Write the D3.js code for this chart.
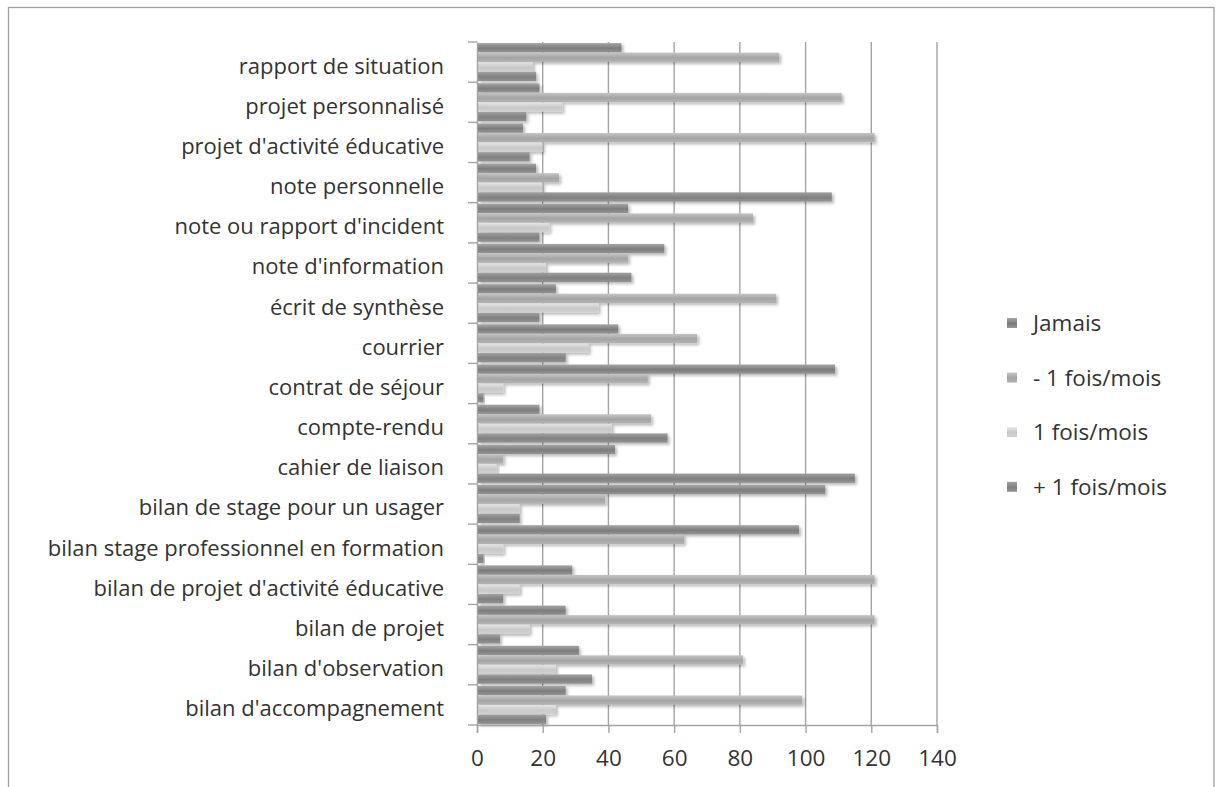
<!DOCTYPE html>
<html>
<head>
<meta charset="utf-8">
<script src="https://cdn.jsdelivr.net/npm/d3@7"></script>
<style>
  html, body { margin: 0; padding: 0; background: #fff; }
  svg { display: block; }
  svg text { font-family: 'Open Sans', sans-serif; }
</style>
</head>
<body>
<div id="plot"></div>
<script>
// categories, top to bottom as drawn
const categories = [
  "rapport de situation",
  "projet personnalisé",
  "projet d'activité éducative",
  "note personnelle",
  "note ou rapport d'incident",
  "note d'information",
  "écrit de synthèse",
  "courrier",
  "contrat de séjour",
  "compte-rendu",
  "cahier de liaison",
  "bilan de stage pour un usager",
  "bilan stage professionnel en formation",
  "bilan de projet d'activité éducative",
  "bilan de projet",
  "bilan d'observation",
  "bilan d'accompagnement"
];

const seriesNames = ["Jamais", "- 1 fois/mois", "1 fois/mois", "+ 1 fois/mois"];

const jamais      = [44, 19, 14, 18, 46, 57, 24, 43, 109, 19, 42, 106, 98, 29, 27, 31, 27];
const moinsUnFois = [92, 111, 121, 25, 84, 46, 91, 67, 52, 53, 8, 39, 63, 121, 121, 81, 99];
const unFois      = [17, 26, 20, 20, 22, 21, 37, 34, 8, 41, 6, 13, 8, 13, 16, 24, 24];
const plusUnFois  = [18, 15, 16, 108, 19, 47, 19, 27, 2, 58, 115, 13, 2, 8, 7, 35, 21];

const xTicks = [0, 20, 40, 60, 80, 100, 120, 140];

const seriesValues = [jamais, moinsUnFois, unFois, plusUnFois];

const width = 1222;
const height = 787;
const marginLeft = 477;
const plotRight = 937;
const plotTop = 42;
const plotBottom = 725;

const svg = d3.create("svg")
    .attr("width", width)
    .attr("height", height)
    .attr("viewBox", [0, 0, width, height]);

// gradients, one per series (dark / medium / light / dark)
const defs = svg.append("defs");
const grads = [
    ["#a6a6a6", "#7c7c7c", "#959595"],
    ["#c4c4c4", "#a4a4a4", "#b4b4b4"],
    ["#e4e4e4", "#c8c8c8", "#d2d2d2"],
    ["#a0a0a0", "#808080", "#939393"]
];
grads.forEach((g, i) => {
    const lg = defs.append("linearGradient")
        .attr("id", "g" + i)
        .attr("x1", 0).attr("y1", 0).attr("x2", 0).attr("y2", 1);
    lg.append("stop").attr("offset", "0%").attr("stop-color", g[0]);
    lg.append("stop").attr("offset", "55%").attr("stop-color", g[1]);
    lg.append("stop").attr("offset", "100%").attr("stop-color", g[2]);
});
const filt = defs.append("filter").attr("id", "shadow")
    .attr("x", "-5%").attr("y", "-40%").attr("width", "120%").attr("height", "200%");
filt.append("feDropShadow")
    .attr("dx", 2).attr("dy", 2).attr("stdDeviation", 1.6)
    .attr("flood-color", "#000").attr("flood-opacity", 0.28);

// frame
svg.append("rect")
    .attr("x", 8.5).attr("y", 7.5)
    .attr("width", 1214 - 8.5).attr("height", 800)
    .attr("fill", "none")
    .attr("stroke", "#a0a0a0")
    .attr("stroke-width", 1.3);

const x = d3.scaleLinear()
    .domain([0, 140])
    .range([marginLeft, plotRight]);

const y0 = d3.scaleBand()
    .domain(categories)
    .range([plotTop, plotBottom])
    .paddingInner(0.04)
    .paddingOuter(0.02);

const y1 = d3.scaleBand()
    .domain(d3.range(seriesNames.length))
    .range([0, y0.bandwidth()])
    .padding(0.03);

// gridlines
svg.append("g")
    .selectAll("line")
    .data(xTicks.slice(1))
    .join("line")
    .attr("x1", d => x(d)).attr("x2", d => x(d))
    .attr("y1", plotTop).attr("y2", plotBottom)
    .attr("stroke", "#a4a4a4")
    .attr("stroke-width", 1.4);

// bars
const groups = svg.append("g")
    .selectAll("g")
    .data(categories)
    .join("g")
    .attr("transform", d => `translate(0,${y0(d)})`);

groups.selectAll("rect")
    .data((c, ci) => seriesValues.map((vals, si) => ({ si, v: vals[ci] })))
    .join("rect")
    .attr("x", x(0) + 1)
    .attr("y", d => y1(d.si))
    .attr("width", d => Math.max(0, x(d.v) - x(0) - 1))
    .attr("height", y1.bandwidth())
    .attr("fill", d => `url(#g${d.si})`)
    .attr("filter", "url(#shadow)");

// x axis
const xAxis = svg.append("g")
    .attr("transform", `translate(0,${plotBottom})`)
    .call(d3.axisBottom(x).tickValues(xTicks).tickSize(8).tickPadding(17));
xAxis.attr("font-family", null);
xAxis.select(".domain").attr("stroke", "#a4a4a4").attr("stroke-width", 1.4);
xAxis.selectAll(".tick line").attr("stroke", "#a4a4a4").attr("stroke-width", 1.4);
xAxis.selectAll(".tick text")
    .attr("fill", "#333")
    .style("font-size", "22.5px");

// y axis
const yAxis = svg.append("g")
    .attr("transform", `translate(${marginLeft},0)`)
    .call(d3.axisLeft(y0).tickSize(0).tickPadding(33));
yAxis.attr("font-family", null);
yAxis.select(".domain").attr("stroke", "#a4a4a4").attr("stroke-width", 1.4);
yAxis.selectAll(".tick text")
    .attr("fill", "#333")
    .attr("dy", "0.52em")
    .style("font-size", "22px");

// category separator ticks
const step = y0.step();
svg.append("g")
    .selectAll("line")
    .data(d3.range(categories.length + 1))
    .join("line")
    .attr("x1", marginLeft - 9).attr("x2", marginLeft)
    .attr("y1", i => y0(categories[0]) - step * y0.paddingInner() / 2 + i * step)
    .attr("y2", i => y0(categories[0]) - step * y0.paddingInner() / 2 + i * step)
    .attr("stroke", "#a4a4a4")
    .attr("stroke-width", 1.4);

// legend
const legend = svg.append("g")
    .selectAll("g")
    .data(seriesNames)
    .join("g")
    .attr("transform", (d, i) => `translate(1007,${323 + i * 54.6})`);
legend.append("rect")
    .attr("x", 0).attr("y", -5)
    .attr("width", 10).attr("height", 10)
    .attr("fill", (d, i) => `url(#g${i})`);
legend.append("text")
    .attr("x", 26)
    .attr("dy", "0.36em")
    .attr("fill", "#333")
    .style("font-size", "22.5px")
    .text(d => d);

document.getElementById("plot").appendChild(svg.node());
</script>
</body>
</html>
